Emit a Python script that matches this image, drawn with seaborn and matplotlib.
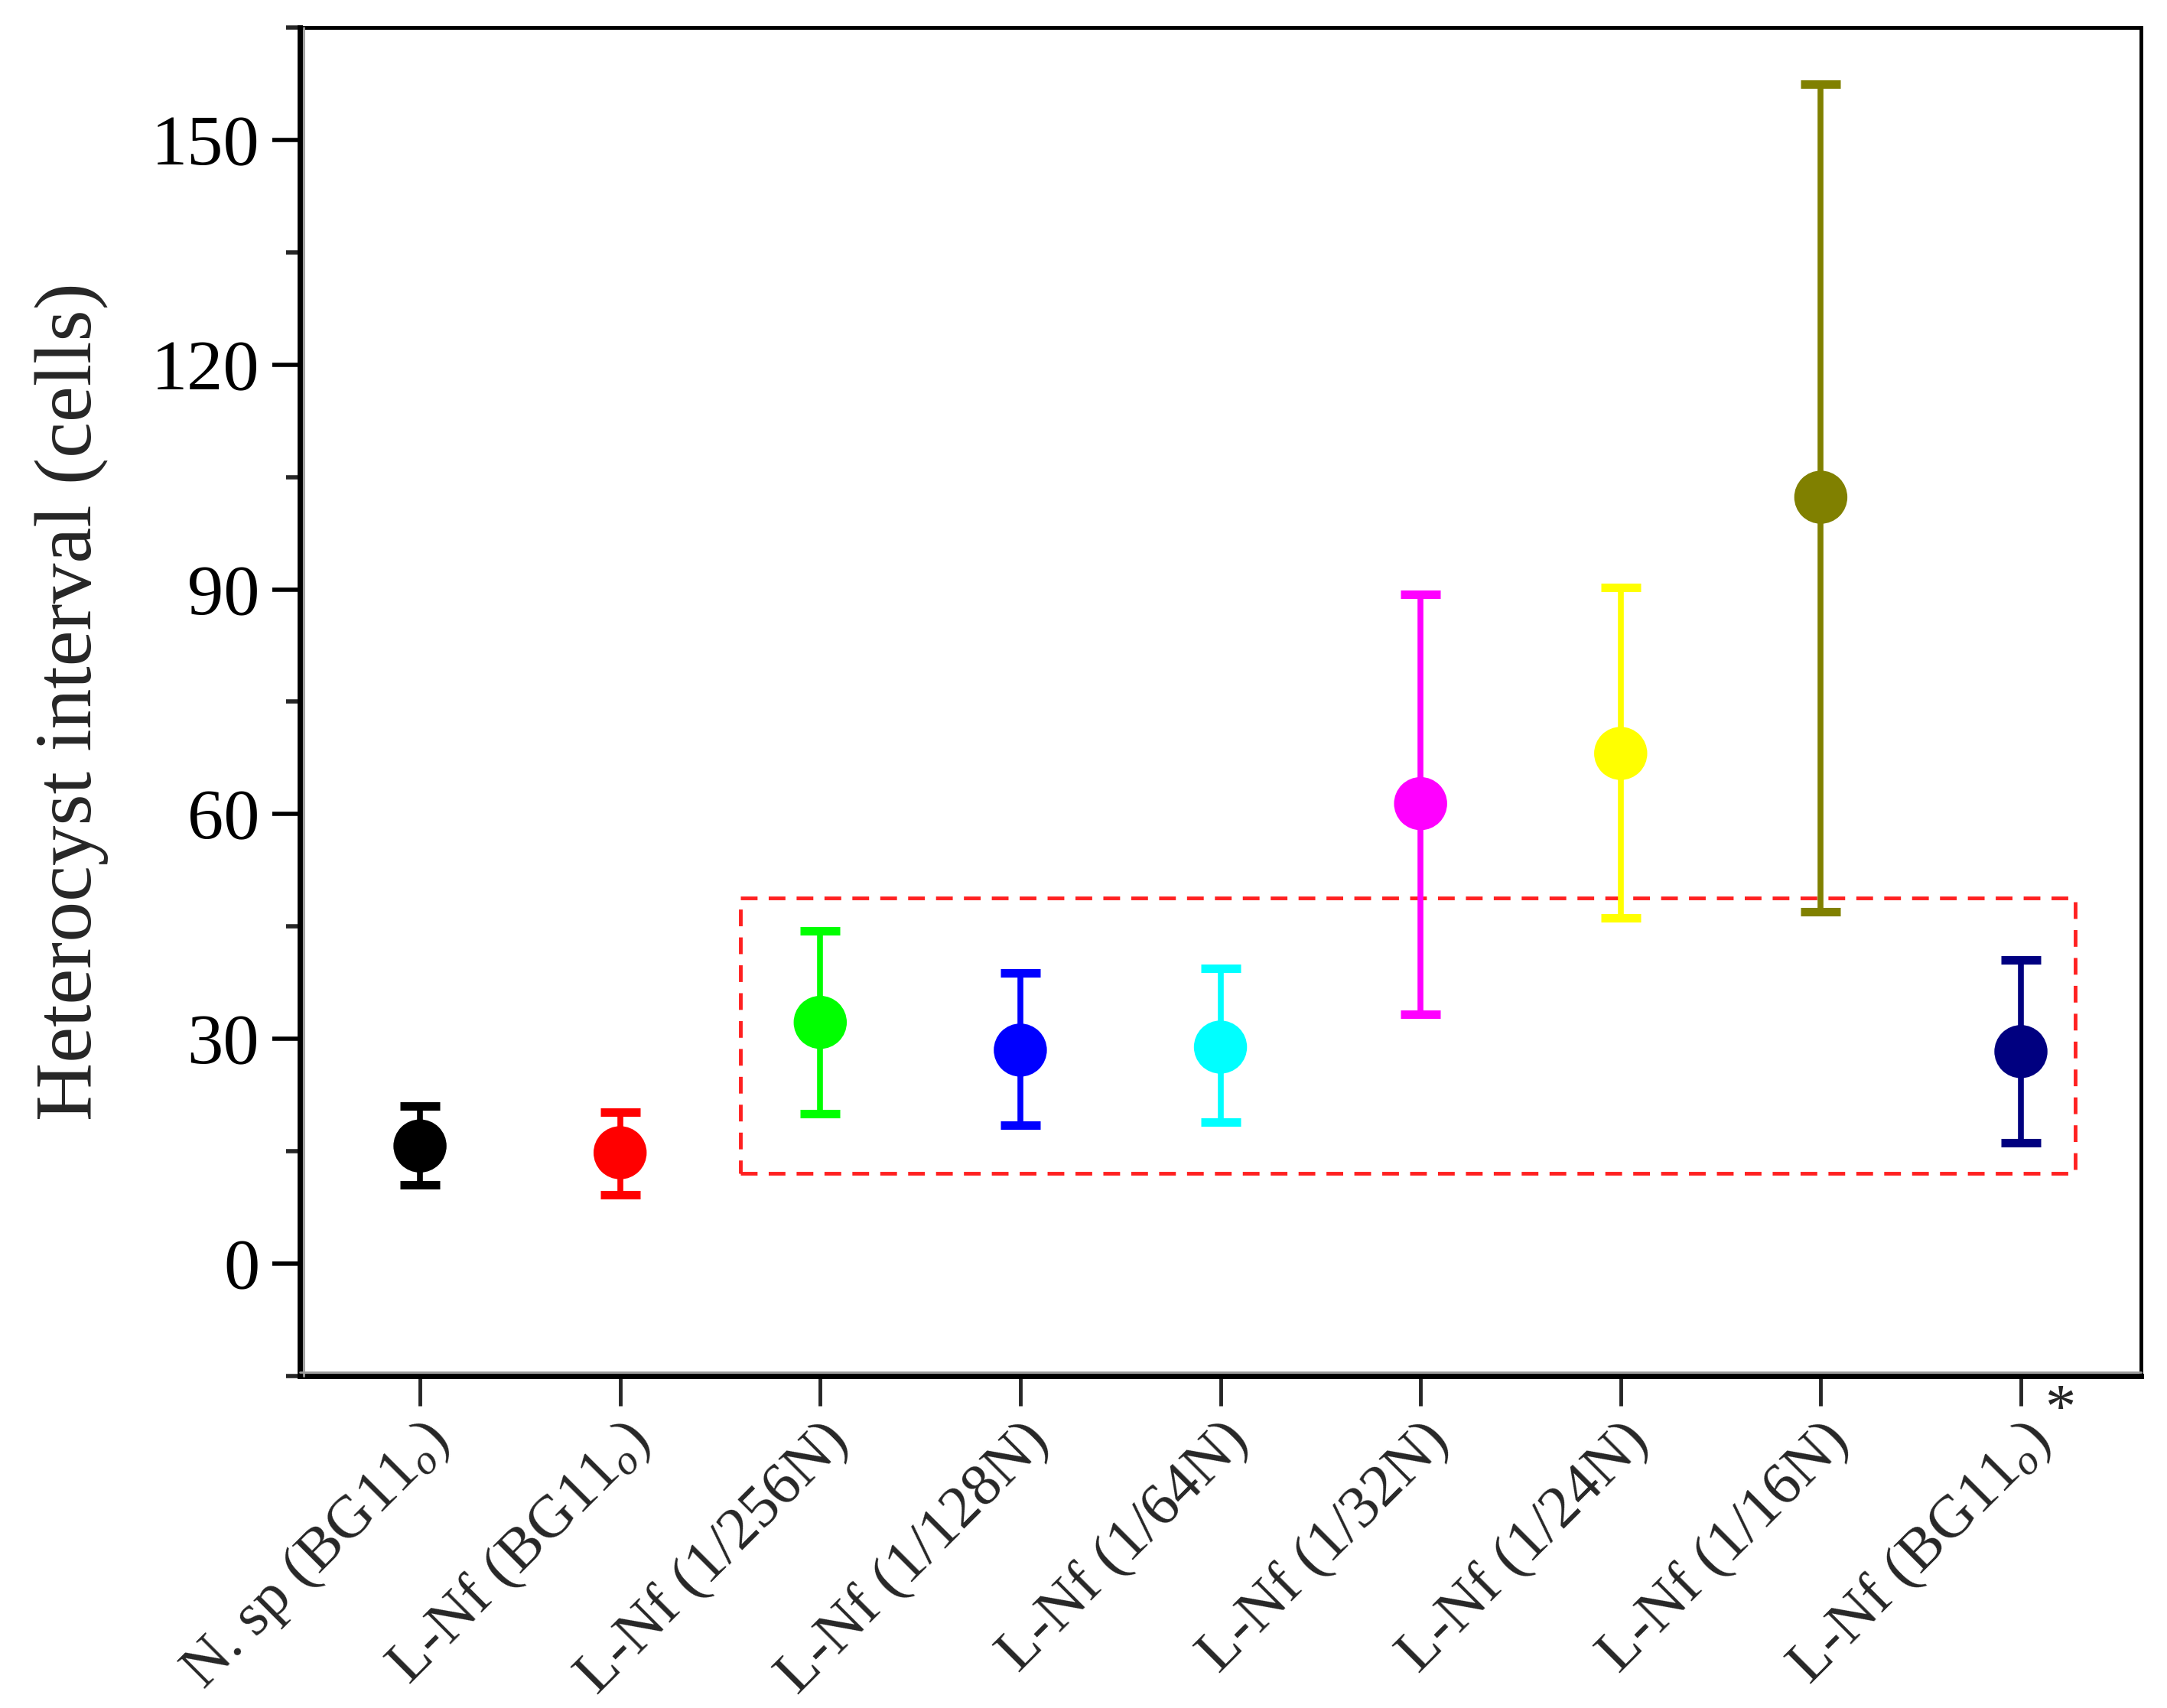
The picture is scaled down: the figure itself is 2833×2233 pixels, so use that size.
import seaborn as sns
import pandas as pd
import matplotlib.pyplot as plt
from matplotlib.ticker import MultipleLocator
from matplotlib.patches import Rectangle
from matplotlib.lines import Line2D

# data
labels = ['N. sp (BG11$_{\\mathit{o}}$)', 'L-Nf (BG11$_{\\mathit{o}}$)', 'L-Nf (1/256N)',
          'L-Nf (1/128N)', 'L-Nf (1/64N)', 'L-Nf (1/32N)', 'L-Nf (1/24N)',
          'L-Nf (1/16N)', 'L-Nf (BG11$_{\\mathit{o}}$)']
means = [15.7, 14.8, 32.2, 28.5, 28.9, 61.4, 68.1, 102.3, 28.3]
upper = [21.0, 20.2, 44.4, 38.8, 39.4, 89.3, 90.3, 157.4, 40.5]
lower = [10.5, 9.2, 20.0, 18.5, 18.9, 33.3, 46.2, 47.0, 16.1]
colors = ['#000000', '#ff0000', '#00ff00', '#0000ff', '#00ffff',
          '#ff00ff', '#ffff00', '#808000', '#000080']

sns.set_theme(style='ticks')
plt.rcParams['font.family'] = ['Liberation Serif', 'DejaVu Serif']
plt.rcParams['mathtext.fontset'] = 'custom'
plt.rcParams['mathtext.rm'] = 'Liberation Serif'
plt.rcParams['mathtext.it'] = 'Liberation Serif:italic'

df = pd.DataFrame({'x': range(len(labels)), 'y': means,
                   'group': [str(i) for i in range(len(labels))]})

fig = plt.figure(figsize=(28.33, 22.33), dpi=100)
ax = fig.add_axes([0.1384, 0.1944, 0.8496, 0.7895])

for i in range(len(means)):
    ax.errorbar(i, means[i], yerr=[[means[i] - lower[i]], [upper[i] - means[i]]],
                fmt='none', ecolor=colors[i], elinewidth=5.5, capsize=19,
                capthick=8, zorder=2)

sns.scatterplot(data=df, x='x', y='y', hue='group', palette=colors, s=2500,
                edgecolor='none', legend=False, ax=ax, zorder=3)

# dashed box around the low-N group
ax.add_patch(Rectangle((1.6, 12.0), 6.67, 36.8, fill=False, edgecolor='#ff2020',
                       lw=3.5, ls=(0, (4.5, 3)), zorder=1))

ax.set_xlim(-0.6, 8.6)
ax.set_ylim(-15, 165)
ax.yaxis.set_major_locator(MultipleLocator(30))
ax.yaxis.set_minor_locator(MultipleLocator(15))
ax.set_xticks(range(len(labels)))
ax.set_xticklabels(labels, rotation=45, ha='right', rotation_mode='anchor')
ax.set_xlabel('')
ax.set_ylabel('Heterocyst interval (cells)', fontsize=76, labelpad=40)

ax.tick_params(axis='y', which='major', direction='out', length=26, width=4,
               labelsize=68, pad=12, colors='black')
ax.tick_params(axis='y', which='minor', direction='out', length=13, width=4)
ax.tick_params(axis='x', which='major', direction='out', length=28, width=3.5,
               labelsize=57, pad=6)
ax.tick_params(axis='x', which='minor', bottom=False)

for side in ['left', 'bottom']:
    ax.spines[side].set_linewidth(5)
for side in ['top', 'right']:
    ax.spines[side].set_linewidth(3.5)
for sp in ax.spines.values():
    sp.set_color('black')

# grey shadow hugging the heavy left/bottom axes
ax.add_line(Line2D([0.0021, 0.0021], [0, 1], transform=ax.transAxes,
                   color='#9a9a9a', lw=2, clip_on=False, zorder=4))
ax.add_line(Line2D([0, 1], [0.0029, 0.0029], transform=ax.transAxes,
                   color='#9a9a9a', lw=2, clip_on=False, zorder=4))

ax.text(8.12, -16, '*', fontsize=58, ha='left', va='top')

plt.savefig('out.png', dpi=100)
